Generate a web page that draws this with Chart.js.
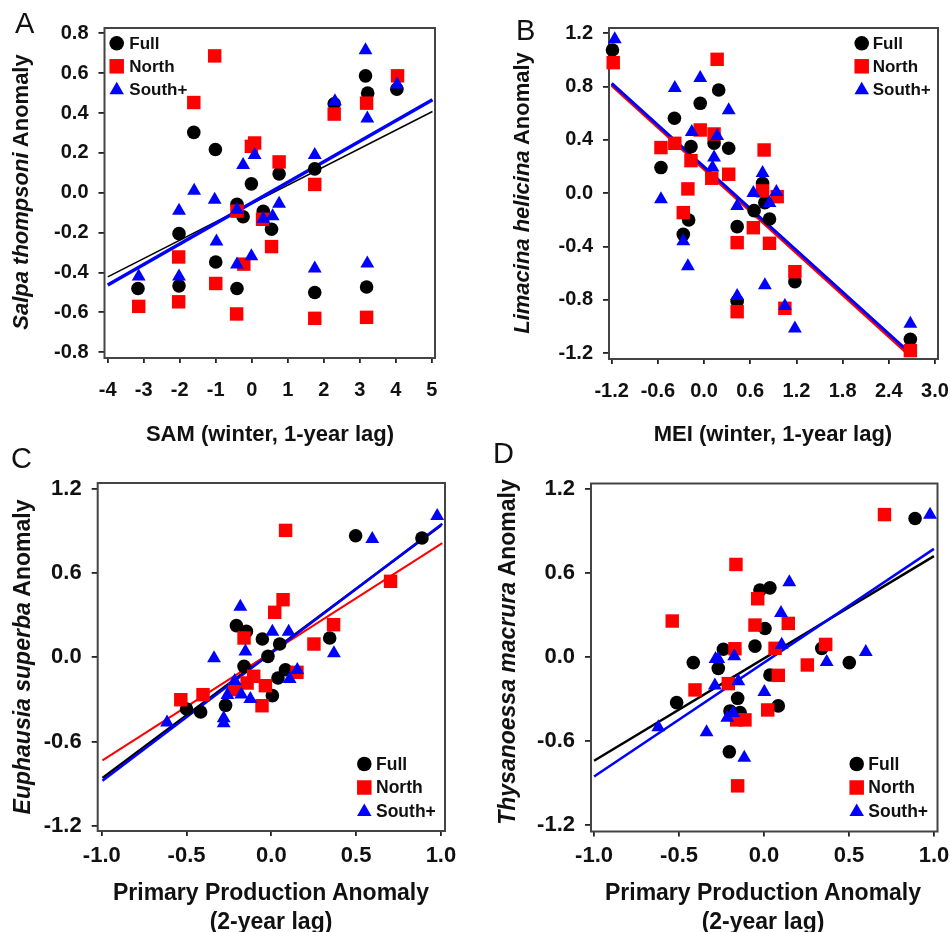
<!DOCTYPE html>
<html>
<head>
<meta charset="utf-8">
<script src="https://cdn.jsdelivr.net/npm/chart.js@4.4.0/dist/chart.umd.min.js"></script>
<style>
html,body{margin:0;padding:0;background:#fff;width:950px;height:932px;overflow:hidden;}
body{font-family:"Liberation Sans",Arial,Helvetica,sans-serif;}
#wrap{position:relative;width:950px;height:932px;background:#fff;}
canvas{position:absolute;left:0;top:0;}
.plabel{position:absolute;font-size:29px;line-height:29px;color:#111;font-weight:normal;}
.ytitle{position:absolute;font-weight:bold;white-space:nowrap;color:#111;transform:translate(-50%,-50%) rotate(-90deg);line-height:1;}
.xtitle{position:absolute;font-weight:bold;white-space:nowrap;color:#111;transform:translate(-50%,-50%);text-align:center;}
</style>
</head>
<body>
<div id="wrap">
<canvas id="cA" width="950" height="932"></canvas>
<canvas id="cB" width="950" height="932"></canvas>
<canvas id="cC" width="950" height="932"></canvas>
<canvas id="cD" width="950" height="932"></canvas>

<div class="plabel" style="left:15px;top:9px;">A</div>
<div class="plabel" style="left:516px;top:16px;">B</div>
<div class="plabel" style="left:11px;top:444px;">C</div>
<div class="plabel" style="left:493px;top:439px;">D</div>

<div class="ytitle" style="left:21px;top:192px;font-size:22px;"><i>Salpa thompsoni</i> Anomaly</div>
<div class="ytitle" style="left:522px;top:193px;font-size:22px;"><i>Limacina helicina</i> Anomaly</div>
<div class="ytitle" style="left:22px;top:657px;font-size:23px;"><i>Euphausia superba</i> Anomaly</div>
<div class="ytitle" style="left:507px;top:652px;font-size:23px;"><i>Thysanoessa macrura</i> Anomaly</div>

<div class="xtitle" style="left:270px;top:434px;font-size:22px;line-height:26px;">SAM (winter, 1-year lag)</div>
<div class="xtitle" style="left:773px;top:434px;font-size:22px;line-height:26px;">MEI (winter, 1-year lag)</div>
<div class="xtitle" style="left:271px;top:907px;font-size:23px;line-height:29px;">Primary Production Anomaly<br>(2-year lag)</div>
<div class="xtitle" style="left:763px;top:907px;font-size:23px;line-height:29px;">Primary Production Anomaly<br>(2-year lag)</div>
</div>

<script>
// ---------------- DATA ----------------
const seriesNames = ['Full', 'North', 'South+'];

// Panel A: SAM (winter, 1-year lag) vs Salpa thompsoni anomaly
const salpaFull = [[-3.16,-0.48],[-2.02,-0.205],[-2.02,-0.467],[-1.61,0.303],[-1.01,0.217],[-1.0,-0.347],[-0.41,-0.48],[-0.41,-0.058],[-0.24,-0.12],[-0.01,0.045],[0.32,-0.093],[0.55,-0.183],[0.76,0.095],[1.75,0.12],[1.75,-0.5],[2.29,0.447],[3.16,0.587],[3.22,0.5],[3.19,-0.473],[4.03,0.52]];
const salpaNorth = [[-3.14,-0.57],[-2.03,-0.322],[-2.03,-0.547],[-1.61,0.453],[-1.03,0.687],[-1.0,-0.455],[-0.42,-0.608],[-0.41,-0.092],[-0.22,-0.358],[-0.01,0.233],[0.08,0.25],[0.3,-0.133],[0.55,-0.27],[0.76,0.155],[1.75,0.042],[1.75,-0.63],[2.29,0.395],[3.19,0.45],[3.19,-0.625],[4.05,0.587]];
const salpaSouth = [[-3.14,-0.42],[-2.02,-0.09],[-2.02,-0.42],[-1.6,0.01],[-1.03,-0.035],[-0.98,-0.245],[-0.41,-0.085],[-0.41,-0.36],[-0.24,0.14],[-0.01,-0.318],[0.08,0.19],[0.32,-0.13],[0.58,-0.118],[0.76,-0.055],[1.75,0.19],[1.75,-0.38],[2.31,0.46],[3.16,0.715],[3.21,0.373],[3.21,-0.355],[4.04,0.543]];
const salpaFitFull = [[-4.0,-0.422],[5.02,0.408]];
const salpaFitSouth = [[-4.0,-0.463],[5.02,0.467]];

// Panel B: MEI (winter, 1-year lag) vs Limacina helicina anomaly
const limacinaFull = [[-1.19,1.075],[-0.56,0.193],[-0.385,0.563],[-0.27,-0.308],[-0.2,-0.2],[-0.17,0.35],[-0.05,0.675],[0.13,0.375],[0.19,0.775],[0.32,0.338],[0.43,-0.25],[0.43,-0.81],[0.65,-0.13],[0.76,0.075],[0.79,-0.07],[0.85,-0.193],[1.18,-0.663],[2.68,-1.095]];
const limacinaNorth = [[-1.18,0.98],[-0.56,0.343],[-0.38,0.375],[-0.27,-0.145],[-0.21,0.033],[-0.17,0.245],[-0.05,0.475],[0.1,0.113],[0.13,0.445],[0.17,1.005],[0.32,0.143],[0.43,-0.37],[0.43,-0.888],[0.64,-0.258],[0.78,0.325],[0.76,0.018],[0.85,-0.375],[0.95,-0.025],[1.05,-0.863],[1.18,-0.588],[2.68,-1.18]];
const limacinaSouth = [[-1.16,1.155],[-0.56,-0.045],[-0.38,0.79],[-0.27,-0.36],[-0.21,-0.548],[-0.16,0.46],[-0.05,0.865],[0.11,0.193],[0.13,0.268],[0.17,0.43],[0.32,0.623],[0.43,-0.095],[0.43,-0.77],[0.64,0.003],[0.76,0.153],[0.79,-0.69],[0.85,-0.073],[0.94,0.01],[1.05,-0.845],[1.18,-1.015],[2.68,-0.978]];
const limacinaFitFull = [[-1.2,0.82],[2.67,-1.2]];
const limacinaFitNorth = [[-1.2,0.81],[2.67,-1.215]];
const limacinaFitSouth = [[-1.2,0.825],[2.68,-1.2]];

// Panel C: Primary production anomaly (2-year lag) vs Euphausia superba anomaly
const euphausiaFull = [[-0.5,-0.368],[-0.417,-0.39],[-0.27,-0.342],[-0.206,0.226],[-0.147,0.185],[-0.161,-0.064],[-0.053,0.131],[-0.02,0.007],[0.049,0.095],[0.006,-0.273],[0.039,-0.147],[0.083,-0.088],[0.344,0.138],[0.497,0.867],[0.888,0.851]];
const euphausiaNorth = [[-0.534,-0.302],[-0.403,-0.266],[-0.216,-0.23],[-0.161,0.138],[-0.143,-0.183],[-0.104,-0.135],[-0.055,-0.345],[-0.035,-0.202],[0.02,0.321],[0.069,0.411],[0.084,0.905],[0.151,-0.107],[0.251,0.095],[0.367,0.233],[0.703,0.542]];
const euphausiaSouth = [[-0.615,-0.464],[-0.338,-0.007],[-0.281,-0.434],[-0.281,-0.47],[-0.259,-0.268],[-0.216,-0.168],[-0.183,0.361],[-0.177,-0.264],[-0.153,0.041],[-0.124,-0.297],[0.006,0.183],[0.102,0.183],[0.108,-0.154],[0.153,-0.09],[0.369,0.029],[0.595,0.844],[0.978,1.008]];
const euphausiaFitFull = [[-0.996,-0.86],[1.0,0.94]];
const euphausiaFitNorth = [[-0.996,-0.734],[1.008,0.815]];
const euphausiaFitSouth = [[-0.996,-0.879],[1.008,0.953]];

// Panel D: Primary production anomaly (2-year lag) vs Thysanoessa macrura anomaly
const thysanoessaFull = [[-0.514,-0.326],[-0.416,-0.04],[-0.269,-0.081],[-0.239,0.055],[-0.204,-0.677],[-0.155,-0.295],[-0.141,-0.397],[-0.2,-0.385],[-0.053,0.078],[-0.024,0.478],[0.035,0.494],[0.006,0.204],[0.035,-0.128],[0.084,-0.349],[0.34,0.062],[0.502,-0.04],[0.889,0.989]];
const thysanoessaNorth = [[-0.54,0.257],[-0.406,-0.235],[-0.21,-0.19],[-0.165,0.661],[-0.171,0.059],[-0.161,-0.449],[-0.155,-0.92],[-0.112,-0.449],[-0.053,0.228],[-0.037,0.416],[0.022,-0.378],[0.065,0.062],[0.084,-0.131],[0.143,0.24],[0.255,-0.057],[0.363,0.09],[0.709,1.017]];
const thysanoessaSouth = [[-0.622,-0.501],[-0.338,-0.537],[-0.285,-0.014],[-0.269,-0.014],[-0.289,-0.204],[-0.216,-0.434],[-0.181,-0.399],[-0.175,0.005],[-0.151,-0.173],[-0.116,-0.72],[0.002,-0.249],[0.1,0.314],[0.104,0.088],[0.149,0.533],[0.369,-0.035],[0.599,0.036],[0.977,1.015]];
const thysanoessaFitFull = [[-1.0,-0.741],[1.0,0.72]];
const thysanoessaFitSouth = [[-1.0,-0.853],[1.0,0.772]];

// Tick values
const samTicks = [-4,-3,-2,-1,0,1,2,3,4,5];
const meiTicks = [-1.2,-0.6,0.0,0.6,1.2,1.8,2.4,3.0];
const ppTicks = [-1.0,-0.5,0.0,0.5,1.0];
const salpaTicks = [-0.8,-0.6,-0.4,-0.2,0.0,0.2,0.4,0.6,0.8];
const limacinaTicks = [-1.2,-0.8,-0.4,0.0,0.4,0.8,1.2];
const krillTicks = [-1.2,-0.6,0.0,0.6,1.2];

// ---------------- DRAWING ----------------
const FONT = '"Liberation Sans", Arial, Helvetica, sans-serif';
Chart.defaults.font.family = FONT;
const BLACK = '#000000', RED = '#ff0000', BLUE = '#0000ff';
const markerStyles = [
  {style:'circle', r:6.8, color:BLACK, order:2},
  {style:'rect', r:9.5, color:RED, order:1},
  {style:'triangle', r:8, color:BLUE, order:0}
];

function fmt(v, d){ const s = Number(v).toFixed(d); return s === '-0' || s === '-0.0' ? s.slice(1) : s; }

function drawMarker(ctx, kind, cx, cy, size){
  ctx.beginPath();
  if (kind === 'circle') { ctx.arc(cx, cy, size/2, 0, Math.PI*2); }
  else if (kind === 'rect') { ctx.rect(cx - size/2, cy - size/2, size, size); }
  else { const h = size*0.87; ctx.moveTo(cx, cy - h*0.6); ctx.lineTo(cx + size/2, cy + h*0.4); ctx.lineTo(cx - size/2, cy + h*0.4); ctx.closePath(); }
  ctx.fill();
}

const framePlugin = {
  id: 'frameBox',
  beforeDatasetsDraw(chart){
    const a = chart.chartArea, ctx = chart.ctx;
    ctx.save(); ctx.strokeStyle = '#444'; ctx.lineWidth = 2;
    ctx.strokeRect(a.left, a.top, a.right - a.left, a.bottom - a.top);
    ctx.restore();
  }
};
const legendPlugin = {
  id: 'innerLegend',
  afterDatasetsDraw(chart, args, o){
    const ctx = chart.ctx; ctx.save();
    seriesNames.forEach((name, i) => {
      const cy = o.y + i*o.dy;
      ctx.fillStyle = markerStyles[i].color;
      drawMarker(ctx, markerStyles[i].style, o.x, cy, 14.5);
      ctx.fillStyle = '#111';
      ctx.font = 'bold ' + o.size + 'px ' + FONT;
      ctx.textBaseline = 'middle'; ctx.textAlign = 'left';
      ctx.fillText(name, o.tx, cy + 1);
    });
    ctx.restore();
  }
};

function panel(id, p){
  const YW = 80, XH = 60;
  const datasets = [];
  p.series.forEach((pts, i) => {
    const m = markerStyles[i];
    datasets.push({label: seriesNames[i], data: pts.map(([x,y]) => ({x, y})),
      pointStyle: m.style, pointRadius: m.r, pointHoverRadius: m.r,
      backgroundColor: m.color, borderColor: m.color, pointBorderWidth: 0, borderWidth: 0,
      showLine: false, order: m.order, clip: false});
  });
  p.fits.forEach((f, i) => {
    datasets.push({label: 'fit ' + f.name, data: f.data.map(([x,y]) => ({x, y})),
      showLine: true, pointRadius: 0, pointHoverRadius: 0, borderColor: f.color, backgroundColor: f.color,
      borderWidth: f.width, fill: false, tension: 0, order: 3 + (p.fits.length - 1 - i), clip: false});
  });
  const f = p.frame;
  new Chart(document.getElementById(id), {
    type: 'scatter',
    data: {datasets},
    options: {
      responsive: false, animation: false, events: [],
      layout: {autoPadding: false, padding: {left: f.L - YW, top: f.T, right: 950 - f.R, bottom: 932 - f.B - XH}},
      plugins: {legend: {display: false}, tooltip: {enabled: false}, innerLegend: p.legend},
      scales: {
        x: {type: 'linear', position: 'bottom', min: p.x.min, max: p.x.max,
          afterBuildTicks: s => { s.ticks = p.x.ticks.map(v => ({value: v})); },
          afterFit: s => { s.height = XH; s.paddingLeft = 0; s.paddingRight = 0; },
          ticks: {autoSkip: false, maxRotation: 0, minRotation: 0, padding: p.xPad, color: '#111',
            font: {size: p.tickSize, weight: 'bold'}, callback: v => fmt(v, p.x.digits)},
          grid: {display: true, drawOnChartArea: false, drawTicks: true, tickLength: 5, color: '#222', lineWidth: 1.8},
          border: {display: false}
        },
        y: {type: 'linear', position: 'left', min: p.y.min, max: p.y.max,
          afterBuildTicks: s => { s.ticks = p.y.ticks.map(v => ({value: v})); },
          afterFit: s => { s.width = YW; s.paddingTop = 0; s.paddingBottom = 0; },
          ticks: {autoSkip: false, padding: p.yPad, color: '#111',
            font: {size: p.tickSize, weight: 'bold'}, callback: v => fmt(v, p.y.digits)},
          grid: {display: true, drawOnChartArea: false, drawTicks: true, tickLength: 6, color: '#222', lineWidth: 1.8},
          border: {display: false}
        }
      }
    },
    plugins: [framePlugin, legendPlugin]
  });
}

panel('cA', {
  frame: {L: 104.5, T: 28, R: 435, B: 358},
  x: {min: -4.09, max: 5.09, ticks: samTicks, digits: 0},
  y: {min: -0.829, max: 0.827, ticks: salpaTicks, digits: 1},
  series: [salpaFull, salpaNorth, salpaSouth],
  fits: [{name: 'Full', data: salpaFitFull, color: BLACK, width: 1.5},
         {name: 'South+', data: salpaFitSouth, color: BLUE, width: 3.5}],
  legend: {x: 116.7, y: 43.3, dy: 23, tx: 129.3, size: 17},
  tickSize: 20, xPad: 15, yPad: 10
});
panel('cB', {
  frame: {L: 609, T: 28, R: 938, B: 359},
  x: {min: -1.235, max: 3.039, ticks: meiTicks, digits: 1},
  y: {min: -1.243, max: 1.24, ticks: limacinaTicks, digits: 1},
  series: [limacinaFull, limacinaNorth, limacinaSouth],
  fits: [{name: 'Full', data: limacinaFitFull, color: BLACK, width: 3},
         {name: 'North', data: limacinaFitNorth, color: RED, width: 3},
         {name: 'South+', data: limacinaFitSouth, color: BLUE, width: 3}],
  legend: {x: 861.7, y: 43.3, dy: 23, tx: 872.7, size: 17},
  tickSize: 20, xPad: 15, yPad: 10
});
panel('cC', {
  frame: {L: 97.7, T: 483, R: 445, B: 831},
  x: {min: -1.024, max: 1.024, ticks: ppTicks, digits: 1},
  y: {min: -1.238, max: 1.243, ticks: krillTicks, digits: 1},
  series: [euphausiaFull, euphausiaNorth, euphausiaSouth],
  fits: [{name: 'Full', data: euphausiaFitFull, color: BLACK, width: 2.5},
         {name: 'North', data: euphausiaFitNorth, color: RED, width: 2},
         {name: 'South+', data: euphausiaFitSouth, color: BLUE, width: 2.5}],
  legend: {x: 364.3, y: 764, dy: 23.5, tx: 376, size: 17.5},
  tickSize: 22, xPad: 7, yPad: 10
});
panel('cD', {
  frame: {L: 591, T: 483.5, R: 937.5, B: 831.5},
  x: {min: -1.018, max: 1.021, ticks: ppTicks, digits: 1},
  y: {min: -1.246, max: 1.239, ticks: krillTicks, digits: 1},
  series: [thysanoessaFull, thysanoessaNorth, thysanoessaSouth],
  fits: [{name: 'Full', data: thysanoessaFitFull, color: BLACK, width: 2.5},
         {name: 'South+', data: thysanoessaFitSouth, color: BLUE, width: 2.5}],
  legend: {x: 856.7, y: 764, dy: 23.5, tx: 868.3, size: 17.5},
  tickSize: 22, xPad: 6, yPad: 10
});
</script>
</body>
</html>
